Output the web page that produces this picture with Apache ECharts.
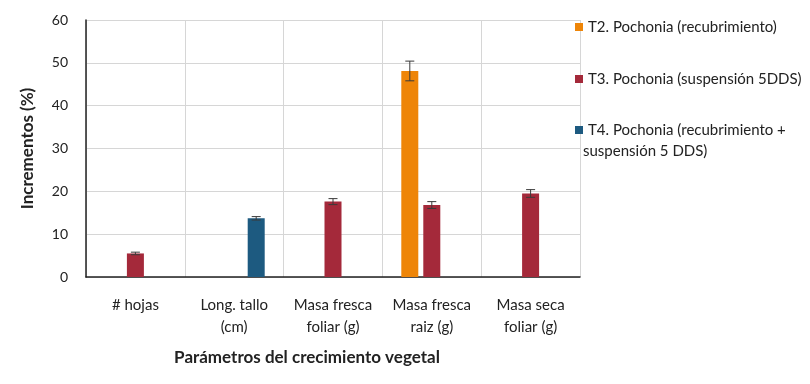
<!DOCTYPE html>
<html>
<head>
<meta charset="utf-8">
<script src="https://cdn.jsdelivr.net/npm/echarts@6/dist/echarts.min.js"></script>
<style>html,body{margin:0;padding:0;background:#fff;}#c{width:810px;height:384px;}</style>
</head>
<body>
<div id="c"></div>
<script>
const categories = ['# hojas', 'Long. tallo\n(cm)', 'Masa fresca\nfoliar (g)', 'Masa fresca\nraiz (g)', 'Masa seca\nfoliar (g)'];
const seriesNames = ['T2. Pochonia (recubrimiento)', 'T3. Pochonia (suspensión 5DDS)', 'T4. Pochonia (recubrimiento +'];
const t4SecondLine = 'suspensión 5 DDS)';
const t2Values = [null, null, null, 48.1, null];
const t2Errors = [null, null, null, 2.3, null];
const t3Values = [5.5, null, 17.6, 16.8, 19.5];
const t3Errors = [0.3, null, 0.7, 0.8, 0.9];
const t4Values = [null, 13.7, null, null, null];
const t4Errors = [null, 0.4, null, null, null];
const yMin = 0, yMax = 60, yInterval = 10;
const yAxisTitle = 'Incrementos (%)';
const xAxisTitle = 'Parámetros del crecimiento vegetal';

const colors = ['#EE8508', '#A4293A', '#1D5A80'];
const FONT = 'Lato';
const BAR_W = 17, GAP_PX = 5;

const chart = echarts.init(document.getElementById('c'), null, {renderer: 'canvas'});

function errData(vals, errs) {
  const out = [];
  vals.forEach((v, i) => { if (v != null && errs[i] != null) out.push([i, v, errs[i]]); });
  return out;
}
function errSeries(name, vals, errs, k) {
  return {
    type: 'custom', name: name, z: 5,
    data: errData(vals, errs),
    encode: {x: 0, y: 1},
    renderItem: function (params, api) {
      const i = api.value(0), v = api.value(1), e = api.value(2);
      const off = (k - 1) * (BAR_W + GAP_PX);
      const x = api.coord([i, v])[0] + off;
      const yt = api.coord([i, v + e])[1];
      const yb = api.coord([i, v - e])[1];
      const st = {stroke: '#3a3a3a', lineWidth: 1};
      return {type: 'group', children: [
        {type: 'line', shape: {x1: x, y1: yt, x2: x, y2: yb}, style: st},
        {type: 'line', shape: {x1: x - 4.5, y1: yt, x2: x + 4.5, y2: yt}, style: st},
        {type: 'line', shape: {x1: x - 4.5, y1: yb, x2: x + 4.5, y2: yb}, style: st}
      ]};
    }
  };
}
function barSeries(name, vals, k) {
  return {
    type: 'bar', name: name, data: vals.map(v => v == null ? '-' : v),
    barWidth: BAR_W, barGap: (GAP_PX / BAR_W * 100) + '%',
    itemStyle: {color: colors[k]}
  };
}

const legendText = {fontFamily: FONT, fontSize: 15, color: '#222', lineHeight: 24};

chart.setOption({
  animation: false,
  textStyle: {fontFamily: FONT},
  grid: {left: 86, right: 230, top: 20, bottom: 107},
  legend: [
    {data: [seriesNames[0], seriesNames[1]], orient: 'vertical', left: 570, top: 10,
     itemWidth: 8, itemHeight: 8, itemGap: 28, icon: 'rect', textStyle: legendText, selectedMode: false},
    {data: [seriesNames[2]], orient: 'vertical', left: 570, top: 113,
     itemWidth: 8, itemHeight: 8, icon: 'rect', textStyle: legendText, selectedMode: false}
  ],
  graphic: [{type: 'text', left: 583, top: 144, style: {text: t4SecondLine, font: '15px ' + FONT, fill: '#222'}}],
  xAxis: {
    type: 'category', data: categories,
    axisLine: {lineStyle: {color: '#222', width: 1.5}},
    axisTick: {show: false},
    axisLabel: {fontFamily: FONT, fontSize: 15, color: '#222', lineHeight: 22, margin: 17, interval: 0},
    splitLine: {show: true, lineStyle: {color: '#d6d6d6'}},
    name: xAxisTitle, nameLocation: 'middle', nameGap: 72,
    nameTextStyle: {fontFamily: FONT, fontSize: 17, fontWeight: 'bold', color: '#222', padding: [0, 52, 0, 0]}
  },
  yAxis: {
    type: 'value', min: yMin, max: yMax, interval: yInterval,
    axisLine: {show: true, lineStyle: {color: '#222', width: 1.5}},
    axisTick: {show: false},
    axisLabel: {fontFamily: FONT, fontSize: 14, color: '#222', margin: 18},
    splitLine: {lineStyle: {color: '#d6d6d6'}},
    name: yAxisTitle, nameLocation: 'middle', nameGap: 50,
    nameTextStyle: {fontFamily: FONT, fontSize: 17, fontWeight: 'bold', color: '#222'}
  },
  series: [
    barSeries(seriesNames[0], t2Values, 0),
    barSeries(seriesNames[1], t3Values, 1),
    barSeries(seriesNames[2], t4Values, 2),
    errSeries('e2', t2Values, t2Errors, 0),
    errSeries('e3', t3Values, t3Errors, 1),
    errSeries('e4', t4Values, t4Errors, 2)
  ]
});
</script>
</body>
</html>
